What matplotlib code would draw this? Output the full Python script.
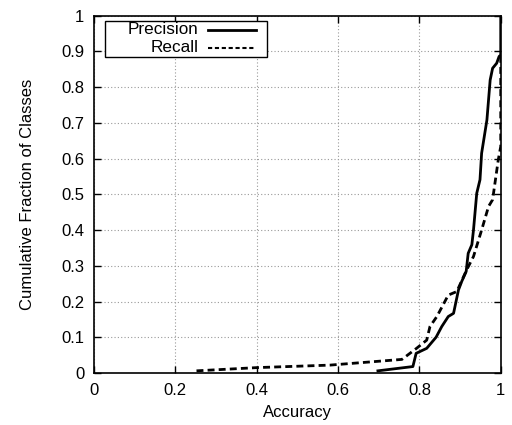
import matplotlib
matplotlib.use('Agg')
import matplotlib.pyplot as plt
from matplotlib.patches import Rectangle

plt.rcParams['font.family'] = ['Liberation Sans', 'DejaVu Sans']

# cumulative fraction of classes vs. per-class accuracy
precision_acc = [0.698, 0.784, 0.792, 0.818, 0.841, 0.855, 0.871, 0.884, 0.896, 0.904,
                 0.915, 0.920, 0.929, 0.933, 0.941, 0.949, 0.953, 0.966, 0.974, 0.980,
                 0.990, 0.996, 1.0, 1.0]
precision_frac = [0.006, 0.018, 0.055, 0.069, 0.10, 0.13, 0.158, 0.167, 0.232, 0.256,
                  0.284, 0.335, 0.359, 0.40, 0.503, 0.541, 0.615, 0.708, 0.82, 0.853,
                  0.867, 0.886, 0.89, 1.0]

recall_acc = [0.252, 0.40, 0.58, 0.757, 0.793, 0.818, 0.826, 0.843, 0.871, 0.892,
              0.916, 0.933, 0.953, 0.970, 0.980, 0.994, 1.0, 1.0]
recall_frac = [0.006, 0.015, 0.022, 0.038, 0.069, 0.092, 0.13, 0.158, 0.218, 0.228,
               0.288, 0.326, 0.40, 0.466, 0.485, 0.597, 0.634, 0.89]

x_ticks = [0, 0.2, 0.4, 0.6, 0.8, 1]
x_ticklabels = ['0', '0.2', '0.4', '0.6', '0.8', '1']
y_ticks = [0, 0.1, 0.2, 0.3, 0.4, 0.5, 0.6, 0.7, 0.8, 0.9, 1]
y_ticklabels = ['0', '0.1', '0.2', '0.3', '0.4', '0.5', '0.6', '0.7', '0.8', '0.9', '1']

fig = plt.figure(figsize=(5.12, 4.25), dpi=100)
ax = fig.add_axes([0.1836, 0.1224, 0.7944, 0.8406])

recall_style = (0, (2.5, 1.5))
ax.plot(precision_acc, precision_frac, color='black', linewidth=2)
ax.plot(recall_acc, recall_frac, color='black', linewidth=2, linestyle=recall_style)

ax.set_xlim(0, 1)
ax.set_ylim(0, 1)
ax.set_xticks(x_ticks)
ax.set_xticklabels(x_ticklabels)
ax.set_yticks(y_ticks)
ax.set_yticklabels(y_ticklabels)
ax.tick_params(direction='in', length=5, width=1, top=True, right=True,
               labelsize=12, pad=7)
ax.grid(True, color='#999999', linestyle=(0, (1, 2)), linewidth=0.8)
for side in ax.spines.values():
    side.set_linewidth(1.2)

ax.set_xlabel('Accuracy', fontsize=12, labelpad=5)
ax.set_ylabel('Cumulative Fraction of Classes', fontsize=12, labelpad=19)

# gnuplot-like key: boxed, labels right-aligned, samples on the right
ax.add_patch(Rectangle((0.027, 0.885), 0.398, 0.099, transform=ax.transAxes,
                       facecolor='white', edgecolor='black', linewidth=1, zorder=5))
key_rows = [('Precision', 0.961, '-', 2), ('Recall', 0.910, (0, (2, 1.3)), 1.5)]
for name, y, ls, lw in key_rows:
    ax.text(0.256, y, name, transform=ax.transAxes, ha='right', va='center',
            fontsize=12.3, zorder=6)
    ax.plot([0.280, 0.398], [y, y], transform=ax.transAxes, color='black',
            linestyle=ls, linewidth=lw, zorder=6, clip_on=False)

fig.savefig('out.png', dpi=100)
